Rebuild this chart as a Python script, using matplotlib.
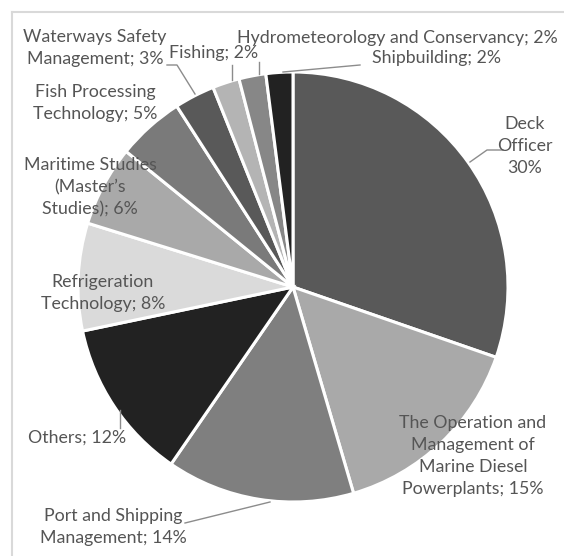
import matplotlib.pyplot as plt
from matplotlib.lines import Line2D

# share of students by study programme, clockwise from 12 o'clock
programmes = [
    "Deck\nOfficer\n30%",
    "The Operation and\nManagement of\nMarine Diesel\nPowerplants; 15%",
    "Port and Shipping\nManagement; 14%",
    "Others; 12%",
    "Refrigeration\nTechnology; 8%",
    "Maritime Studies\n(Master\u2019s\nStudies); 6%",
    "Fish Processing\nTechnology; 5%",
    "Waterways Safety\nManagement; 3%",
    "Fishing; 2%",
    "Hydrometeorology and Conservancy; 2%",
    "Shipbuilding; 2%",
]
shares = [30, 15, 14, 12, 8, 6, 5, 3, 2, 2, 2]
greys = ["#595959", "#a9a9a9", "#7f7f7f", "#222222", "#dadada", "#a9a9a9",
         "#7a7a7a", "#595959", "#b4b4b4", "#878787", "#222222"]

# pixel geometry of the pie: centre and radius
CX, CY, R = 293, 287, 215
W, H = 564, 556


def px(x, y):
    """Convert image pixel coordinates to data units of the pie axes."""
    return (x - CX) / R, (CY - y) / R


# label centres and leader lines (pixel positions)
label_pos = [(525, 146), (473, 456), (113, 527), (77, 438), (103, 293),
             (90, 187), (95, 103), (95, 48), (214, 53), (397, 38), (437, 58)]
leaders = [
    [(503, 150), (487, 150), (470, 162)],
    None,
    [(185, 523), (270, 502)],
    [(120, 410), (120, 428)],
    None,
    None,
    None,
    [(167, 65), (177, 65), (195, 94)],
    [(232, 65), (232, 80)],
    [(259, 62), (259, 74)],
    [(283, 72), (360, 65)],
]

fig = plt.figure(figsize=(W / 100, H / 100), dpi=100)
ax = fig.add_axes([0, 0, 1, 1])
ax.pie(shares, colors=greys, startangle=90, counterclock=False, radius=1,
       wedgeprops=dict(edgecolor="white", linewidth=2.2))
ax.set_xlim(-CX / R, (W - CX) / R)
ax.set_ylim((CY - H) / R, CY / R)
ax.set_aspect("auto")
ax.axis("off")

for label, (x, y), line in zip(programmes, label_pos, leaders):
    tx, ty = px(x, y)
    ax.text(tx, ty, label, ha="center", va="center", fontsize=12.8,
            family="Lato", color="#555555", linespacing=1.47)
    if line:
        xs, ys = zip(*[px(a, b) for a, b in line])
        ax.plot(xs, ys, color="#8c8c8c", lw=1)

# chart area border (only top and left edges fall inside the image)
fig.add_artist(Line2D([12 / W, 1], [1 - 12 / H, 1 - 12 / H], color="#d9d9d9", lw=1.5))
fig.add_artist(Line2D([12 / W, 12 / W], [0, 1 - 12 / H], color="#d9d9d9", lw=1.5))

fig.savefig("out.png", dpi=100)
